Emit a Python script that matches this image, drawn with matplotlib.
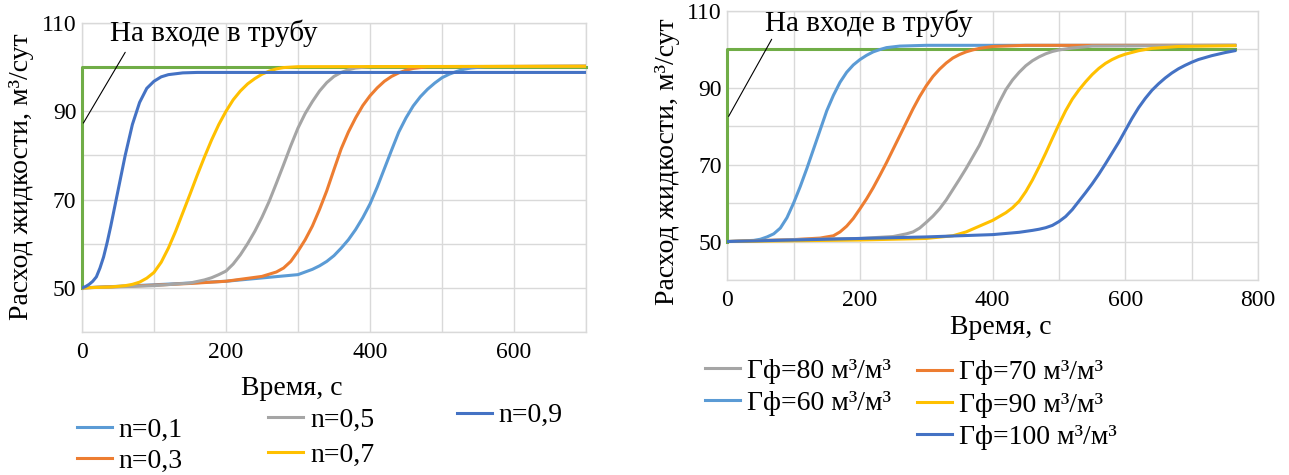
import numpy as np
import matplotlib
matplotlib.use("Agg")
import matplotlib.pyplot as plt

plt.rcParams['font.family'] = 'serif'
plt.rcParams['font.serif'] = ['Liberation Serif', 'DejaVu Serif']
FONT = 'Liberation Serif'

# --- left panel: flow rate vs time for different n ---
t_in_left = [0, 0, 700]
q_in_left = [50, 100, 100]

t_n01 = [0, 100, 200, 300, 320, 330, 340, 350, 360, 370, 380, 390, 400, 410, 420, 430, 440, 450,
         460, 470, 480, 490, 500, 510, 520, 530, 540, 560, 700]
q_n01 = [50, 50.7, 51.5, 53, 54.2, 55, 56, 57.3, 59, 60.9, 63.2, 65.9, 69, 72.8, 77, 81.2, 85.3, 88.5,
         91.2, 93.3, 95, 96.4, 97.6, 98.4, 99, 99.5, 99.8, 100.1, 100.2]

t_n03 = [0, 100, 150, 200, 250, 270, 280, 290, 300, 310, 320, 330, 340, 350, 360, 370, 380, 390,
         400, 410, 420, 430, 440, 450, 460, 480, 700]
q_n03 = [50, 50.6, 51, 51.5, 52.6, 53.6, 54.5, 56, 58.3, 60.9, 64, 67.8, 72, 76.8, 81.5, 85.3, 88.5, 91.3,
         93.5, 95.3, 96.8, 97.9, 98.7, 99.3, 99.7, 100.1, 100.2]

t_n05 = [0, 100, 150, 170, 180, 190, 200, 210, 220, 230, 240, 250, 260, 270, 280, 290, 300, 310,
         320, 330, 340, 350, 360, 370, 380, 400, 700]
q_n05 = [50, 50.5, 51.1, 51.8, 52.3, 53, 53.8, 55.4, 57.5, 60, 62.8, 66, 69.6, 73.7, 77.9, 82.2, 86.2, 89.5,
         92.2, 94.6, 96.5, 97.9, 98.8, 99.4, 99.8, 100.1, 100.2]

t_n07 = [0, 40, 60, 70, 80, 90, 100, 110, 120, 130, 140, 150, 160, 170, 180, 190, 200, 210,
         220, 230, 240, 250, 260, 270, 280, 300, 700]
q_n07 = [50, 50.2, 50.5, 50.8, 51.3, 52.2, 53.5, 55.8, 59, 62.8, 67, 71.2, 75.5, 79.6, 83.5, 87, 90, 92.6,
         94.6, 96.2, 97.4, 98.4, 99.1, 99.6, 99.9, 100.1, 100.2]

t_n09 = [0, 5, 10, 15, 20, 25, 30, 35, 40, 50, 60, 70, 80, 90, 100, 110, 120, 140, 160, 700]
q_n09 = [50, 50.3, 50.8, 51.5, 52.5, 54.5, 57, 60.3, 64, 72, 80, 87, 92, 95.2, 96.8, 97.8, 98.3, 98.7,
         98.8, 98.8]

# --- right panel: flow rate vs time for different gas factor ---
t_in_right = [0, 0, 765]
q_in_right = [50, 100, 100]

t_g60 = [0, 40, 50, 60, 70, 80, 90, 100, 110, 120, 130, 140, 150, 160, 170, 180, 190, 200,
         210, 220, 230, 240, 260, 300, 765]
q_g60 = [50, 50.3, 50.6, 51.2, 52, 53.5, 56.2, 60, 64.3, 69, 74, 79, 84, 88, 91.4, 94, 95.9, 97.3,
         98.4, 99.3, 99.9, 100.4, 100.8, 101, 101]

t_g70 = [0, 100, 140, 160, 170, 180, 190, 200, 210, 220, 230, 240, 250, 260, 270, 280, 290, 300,
         310, 320, 330, 340, 350, 360, 370, 380, 400, 450, 765]
q_g70 = [50, 50.5, 50.9, 51.5, 52.5, 54, 56, 58.5, 61.1, 64, 67.2, 70.5, 74, 77.5, 81, 84.5, 87.7, 90.5,
         92.9, 94.8, 96.4, 97.7, 98.6, 99.3, 99.8, 100.2, 100.7, 101, 101]

t_g80 = [0, 100, 200, 250, 270, 280, 290, 300, 310, 320, 330, 340, 350, 360, 370, 380, 390, 400,
         410, 420, 430, 440, 450, 460, 470, 480, 490, 500, 520, 550, 765]
q_g80 = [50, 50.5, 50.8, 51.3, 52, 52.5, 53.5, 55, 56.6, 58.5, 60.8, 63.5, 66.2, 69, 72, 75, 78.7, 82.5,
         86.2, 89.5, 92, 94, 95.7, 97, 98, 98.8, 99.4, 99.8, 100.3, 100.8, 101]

t_g90 = [0, 200, 300, 340, 360, 380, 400, 420, 430, 440, 450, 460, 470, 480, 490, 500, 510, 520,
         530, 540, 550, 560, 570, 580, 590, 600, 620, 640, 680, 765]
q_g90 = [50, 50.4, 50.8, 51.5, 52.5, 54, 55.5, 57.5, 58.8, 60.5, 63, 66, 69.4, 73, 76.8, 80.5, 84, 87,
         89.4, 91.5, 93.4, 95, 96.3, 97.3, 98.1, 98.7, 99.6, 100.2, 100.7, 100.9]

t_g100 = [0, 100, 200, 300, 400, 440, 460, 470, 480, 490, 500, 510, 520, 530, 540, 550, 560, 570,
          580, 590, 600, 610, 620, 630, 640, 650, 660, 670, 680, 690, 700, 710, 720, 730, 740, 750, 765]
q_g100 = [50, 50.4, 50.8, 51.2, 51.8, 52.4, 52.9, 53.2, 53.6, 54.2, 55.2, 56.5, 58.3, 60.5, 62.7, 65, 67.5, 70.2,
          73, 75.8, 78.9, 82, 84.8, 87.2, 89.3, 91, 92.5, 93.8, 94.9, 95.8, 96.6, 97.3, 97.8, 98.3, 98.7, 99.1, 99.6]

c_lblue = '#5B9BD5'
c_orange = '#ED7D31'
c_gray = '#A5A5A5'
c_yellow = '#FFC000'
c_dblue = '#4472C4'
c_green = '#70AD47'
lw = 2.2
fs_tick = 17
fs_leg = 20
fs_note = 21
fs_lab = 20

ylab = 'Расход жидкости, м³/сут'
note = 'На входе в трубу'

fig = plt.figure(figsize=(12.89, 4.75), dpi=100)
ax1 = fig.add_axes([0.0636, 0.301, 0.391, 0.6506])
ax2 = fig.add_axes([0.5642, 0.4105, 0.4118, 0.567])


def style_axes(ax, xmax):
    ax.set_xlim(0, xmax)
    ax.set_ylim(40, 110)
    ax.set_xticks(np.arange(0, xmax + 1, 200))
    ax.set_xticks(np.arange(0, xmax + 1, 100), minor=True)
    ax.set_yticks([50, 70, 90, 110])
    ax.set_yticks(np.arange(40, 111, 10), minor=True)
    ax.grid(True, which='both', color='#D9D9D9', lw=1.0)
    ax.set_axisbelow(True)
    for s in ax.spines.values():
        s.set_color('#D9D9D9')
        s.set_linewidth(1.0)
        s.set_zorder(0.5)
    ax.tick_params(which='both', length=0, labelsize=fs_tick)
    ax.tick_params(axis='x', pad=7)
    ax.tick_params(axis='y', pad=4)
    for lab in ax.get_xticklabels() + ax.get_yticklabels():
        lab.set_family(FONT)


style_axes(ax1, 700)
style_axes(ax2, 800)

# left panel
ax1.plot(t_in_left, q_in_left, color=c_green, lw=lw, clip_on=False)
l01, = ax1.plot(t_n01, q_n01, color=c_lblue, lw=lw, label='n=0,1')
l03, = ax1.plot(t_n03, q_n03, color=c_orange, lw=lw, label='n=0,3')
l05, = ax1.plot(t_n05, q_n05, color=c_gray, lw=lw, label='n=0,5')
l07, = ax1.plot(t_n07, q_n07, color=c_yellow, lw=lw, label='n=0,7')
l09, = ax1.plot(t_n09, q_n09, color=c_dblue, lw=lw, label='n=0,9')
ax1.text(39, 107.6, note, fontsize=fs_note, family=FONT, va='center', ha='left')
ax1.annotate('', xy=(0, 86.8), xytext=(62, 103.9),
             arrowprops=dict(arrowstyle='-', color='black', lw=0.8))

# right panel
ax2.plot(t_in_right, q_in_right, color=c_green, lw=lw, clip_on=False)
g60, = ax2.plot(t_g60, q_g60, color=c_lblue, lw=lw, label='Гф=60 м³/м³')
g70, = ax2.plot(t_g70, q_g70, color=c_orange, lw=lw, label='Гф=70 м³/м³')
g80, = ax2.plot(t_g80, q_g80, color=c_gray, lw=lw, label='Гф=80 м³/м³')
g90, = ax2.plot(t_g90, q_g90, color=c_yellow, lw=lw, label='Гф=90 м³/м³')
g100, = ax2.plot(t_g100, q_g100, color=c_dblue, lw=lw, label='Гф=100 м³/м³')
ax2.text(57, 106.8, note, fontsize=fs_note, family=FONT, va='center', ha='left')
ax2.annotate('', xy=(0, 81.9), xytext=(69, 103.2),
             arrowprops=dict(arrowstyle='-', color='black', lw=0.8))

# axis titles
fig.text(0.017, 0.628, ylab, rotation=90, fontsize=fs_lab, family=FONT, ha='center', va='center')
fig.text(0.518, 0.66, ylab, rotation=90, fontsize=fs_lab, family=FONT, ha='center', va='center')
fig.text(0.2265, 0.183, 'Время, с', fontsize=fs_lab, family=FONT, ha='center', va='center')
fig.text(0.7766, 0.3095, 'Время, с', fontsize=fs_lab, family=FONT, ha='center', va='center')


def column_legend(handles, x, y, spacing):
    leg = fig.legend(handles=handles, loc='center left', bbox_to_anchor=(x, y),
                     frameon=False, prop={'family': FONT, 'size': fs_leg}, handlelength=1.26,
                     handletextpad=0.25, borderpad=0, borderaxespad=0,
                     labelspacing=spacing)
    return leg


column_legend([l01, l03], 0.0597, 0.062, 0.18)
column_legend([l05, l07], 0.2079, 0.0789, 0.36)
column_legend([l09], 0.3545, 0.125, 0.0)
column_legend([g80, g60], 0.547, 0.185, 0.25)
column_legend([g70, g90, g100], 0.7114, 0.1474, 0.25)

fig.savefig('out.png', dpi=100)
